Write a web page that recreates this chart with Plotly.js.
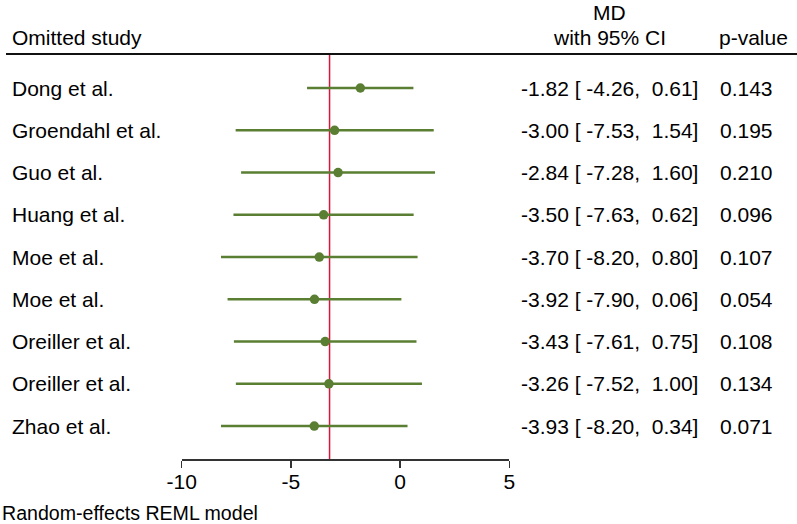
<!DOCTYPE html>
<html>
<head>
<meta charset="utf-8">
<script src="https://cdn.plot.ly/plotly-3.0.1.min.js"></script>
<style>html,body{margin:0;padding:0;background:#fff;}#chart{width:797px;height:524px;}</style>
</head>
<body>
<div id="chart"></div>
<script>
// ---- data ----
const studies = ["Dong et al.", "Groendahl et al.", "Guo et al.", "Huang et al.", "Moe et al.", "Moe et al.", "Oreiller et al.", "Oreiller et al.", "Zhao et al."];
const md      = [-1.82, -3.00, -2.84, -3.50, -3.70, -3.92, -3.43, -3.26, -3.93];
const ciLow   = [-4.26, -7.53, -7.28, -7.63, -8.20, -7.90, -7.61, -7.52, -8.20];
const ciHigh  = [ 0.61,  1.54,  1.60,  0.62,  0.80,  0.06,  0.75,  1.00,  0.34];
const pvals   = [0.143, 0.195, 0.210, 0.096, 0.107, 0.054, 0.108, 0.134, 0.071];
const overall = -3.23;
const tickVals = [-10, -5, 0, 5];
const tickLabels = ["-10", "-5", "0", "5"];

// ---- styling ----
const W = 797, H = 524;
const FONT = "Liberation Sans, Arial, sans-serif";
const FS = 21;
const GREEN = "#5a7f32";
const RED = "#dc143c";
const px = v => v / W;          // x pixel -> paper
const py = v => 1 - v / H;      // y pixel -> paper

const n = studies.length;
const yPos = studies.map((s, i) => n - i);   // row positions, top row = n

const NB = "\u00a0";
function fmtLo(v) { return v < 0 ? "-" + Math.abs(v).toFixed(2) : NB + v.toFixed(2); }
function fmtHi(v) { return v < 0 ? "-" + Math.abs(v).toFixed(2) : NB + v.toFixed(2); }
const ciText = md.map((m, i) =>
  m.toFixed(2) + " [" + NB + fmtLo(ciLow[i]) + "," + NB + fmtHi(ciHigh[i]) + "]");

const trace = {
  type: "scatter",
  mode: "markers",
  x: md,
  y: yPos,
  marker: { color: GREEN, size: 9.5 },
  error_x: {
    type: "data",
    symmetric: false,
    array: md.map((m, i) => ciHigh[i] - m),
    arrayminus: md.map((m, i) => m - ciLow[i]),
    color: GREEN,
    thickness: 2.6,
    width: 0
  },
  hoverinfo: "skip",
  showlegend: false
};

const annotations = [];
const txt = (text, x, y, anchor, size) => ({
  text: text, xref: "paper", yref: "paper", x: px(x), y: py(y),
  xanchor: anchor, yanchor: "middle", showarrow: false,
  font: { family: FONT, size: size || FS, color: "#000" }
});
studies.forEach((s, i) => {
  annotations.push(Object.assign(txt(s, 10, 0, "left"), { yref: "y", y: yPos[i] }));
  annotations.push(Object.assign(txt(ciText[i], 700, 0, "right"), { yref: "y", y: yPos[i] }));
  annotations.push(Object.assign(txt(pvals[i].toFixed(3), 775, 0, "right"), { yref: "y", y: yPos[i] }));
});
annotations.push(txt("Omitted study", 10, 38, "left"));
annotations.push(txt("MD", 609, 12, "center"));
annotations.push(txt("with 95% CI", 609, 38, "center"));
annotations.push(txt("p-value", 753, 38, "center"));
annotations.push(txt("Random-effects REML model", 0, 513, "left", 19.6));

const yBottom = py(459), yTop = py(54);
const layout = {
  width: W, height: H,
  margin: { l: 0, r: 0, t: 0, b: 0 },
  paper_bgcolor: "#fff", plot_bgcolor: "#fff",
  font: { family: FONT, size: FS, color: "#000" },
  xaxis: {
    domain: [px(181.7), px(509.3)],
    range: [-10, 5],
    tickmode: "array", tickvals: tickVals, ticktext: tickLabels,
    ticks: "outside", ticklen: 7, tickwidth: 1.5, tickcolor: "#333",
    ticklabelstandoff: -4,
    showline: true, linecolor: "#333", linewidth: 1.5,
    showgrid: false, zeroline: false,
    tickfont: { family: FONT, size: FS, color: "#000" },
    fixedrange: true
  },
  yaxis: {
    domain: [yBottom, yTop],
    range: [0.22, n + 0.805],
    visible: false, showgrid: false, zeroline: false, fixedrange: true
  },
  shapes: [
    { type: "line", xref: "paper", yref: "paper", x0: px(6), x1: 1, y0: yTop, y1: yTop,
      line: { color: "#111", width: 1.8 } },
    { type: "line", xref: "x", yref: "paper", x0: overall, x1: overall, y0: yBottom, y1: yTop,
      line: { color: RED, width: 1.5 }, layer: "below" }
  ],
  annotations: annotations
};

Plotly.newPlot("chart", [trace], layout, { displayModeBar: false, staticPlot: true });
</script>
</body>
</html>
